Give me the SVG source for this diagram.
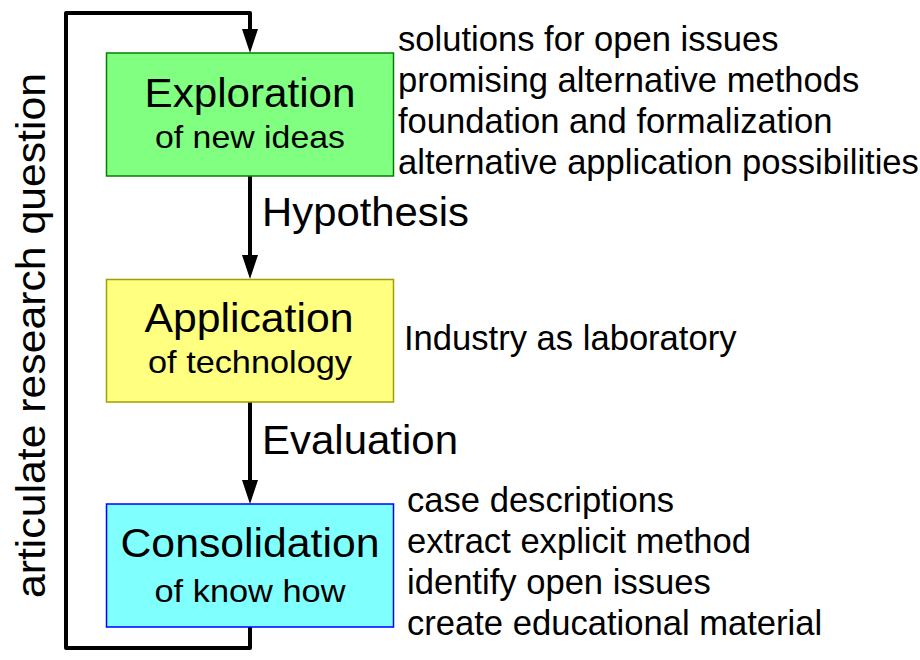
<svg xmlns="http://www.w3.org/2000/svg" width="920" height="660" viewBox="0 0 920 660">
<defs>
<marker id="ah" markerUnits="userSpaceOnUse" markerWidth="24" markerHeight="16" refX="4" refY="8" orient="auto" viewBox="0 0 24 16">
<path d="M0,0 L24,8 L0,16 z" fill="#000"/>
</marker>
<style>
.t{font-family:"Liberation Sans",Arial,sans-serif;fill:#000}
.title{font-size:40px;text-anchor:middle}
.sub{font-size:32px;text-anchor:middle}
.note{font-size:34.6px}
.lbl{font-size:40px}
.con{fill:none;stroke:#000;stroke-width:4;stroke-linejoin:round}
.box{stroke-width:1.5}
</style>
</defs>
<rect width="920" height="660" fill="#fff"/>
<g id="connectors">
<path class="con" d="M250,627 V648 H66 V13 H250 V33" marker-end="url(#ah)"/>
<path class="con" d="M250,176 V259" marker-end="url(#ah)"/>
<path class="con" d="M250,402 V484" marker-end="url(#ah)"/>
</g>
<g id="exploration">
<rect class="box" x="106.5" y="53" width="287" height="123" fill="#80ff80" stroke="#008000"/>
<text class="t title" x="250" y="107" textLength="211" lengthAdjust="spacingAndGlyphs">Exploration</text>
<text class="t sub" x="250" y="148" textLength="190" lengthAdjust="spacingAndGlyphs">of new ideas</text>
</g>
<g id="application">
<rect class="box" x="106.5" y="279.5" width="287" height="122.5" fill="#ffff80" stroke="#a0a000"/>
<text class="t title" x="249" y="332" textLength="209" lengthAdjust="spacingAndGlyphs">Application</text>
<text class="t sub" x="250" y="373" textLength="204" lengthAdjust="spacingAndGlyphs">of technology</text>
</g>
<g id="consolidation">
<rect class="box" x="106.5" y="504" width="287" height="123" fill="#80ffff" stroke="#0000ff"/>
<text class="t title" x="250" y="557" textLength="259" lengthAdjust="spacingAndGlyphs">Consolidation</text>
<text class="t sub" x="250" y="602" textLength="191" lengthAdjust="spacingAndGlyphs">of know how</text>
</g>
<g id="labels">
<text class="t lbl" x="262" y="226" textLength="207" lengthAdjust="spacingAndGlyphs">Hypothesis</text>
<text class="t lbl" x="262" y="454" textLength="196" lengthAdjust="spacingAndGlyphs">Evaluation</text>
<text class="t lbl" x="45" y="335.5" text-anchor="middle" font-size="38" transform="rotate(-90 45 335.5)" textLength="525" lengthAdjust="spacingAndGlyphs">articulate research question</text>
</g>
<g id="notes-exploration">
<text class="t note" x="398" y="50.5">solutions for open issues</text>
<text class="t note" x="398" y="91.5">promising alternative methods</text>
<text class="t note" x="398" y="132.5">foundation and formalization</text>
<text class="t note" x="398" y="173.5">alternative application possibilities</text>
</g>
<g id="notes-application">
<text class="t note" x="404" y="350">Industry as laboratory</text>
</g>
<g id="notes-consolidation">
<text class="t note" x="407" y="512">case descriptions</text>
<text class="t note" x="407" y="553">extract explicit method</text>
<text class="t note" x="407" y="594">identify open issues</text>
<text class="t note" x="407" y="635">create educational material</text>
</g>
</svg>
